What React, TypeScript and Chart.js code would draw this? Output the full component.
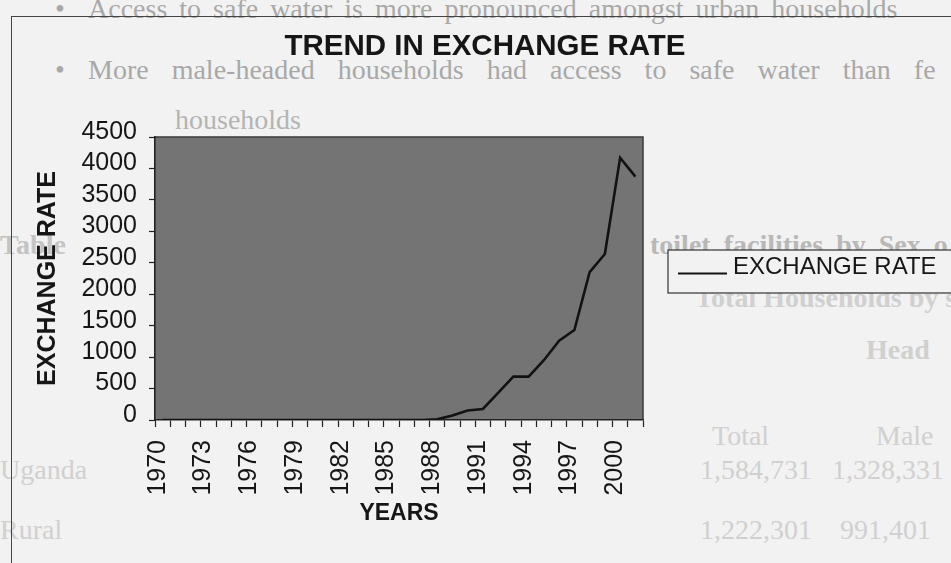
import { useEffect, useRef } from 'react';
import { Chart, registerables } from 'chart.js';

Chart.register(...registerables);

// Yearly categories on the x axis
const YEARS = [
  '1970', '1971', '1972', '1973', '1974', '1975', '1976', '1977',
  '1978', '1979', '1980', '1981', '1982', '1983', '1984', '1985',
  '1986', '1987', '1988', '1989', '1990', '1991', '1992', '1993',
  '1994', '1995', '1996', '1997', '1998', '1999', '2000', '2001',
];

// Exchange rate per year
const EXCHANGE_RATE = [
  0, 0, 0, 0, 0, 0, 0, 0,
  0, 0, 0, 0, 0, 0, 0, 0,
  0, 0, 10, 70, 150, 175, 430, 690,
  690, 950, 1260, 1430, 2350, 2640, 4170, 3870,
];

// Only every third year carries a label
const LABELLED_YEARS = ['1970', '1973', '1976', '1979', '1982', '1985', '1988', '1991', '1994', '1997', '2000'];

const Y_MIN = 0;
const Y_MAX = 4500;
const Y_STEP = 500;

const CHART_TITLE = 'TREND IN EXCHANGE RATE';
const X_TITLE = 'YEARS';
const Y_TITLE = 'EXCHANGE RATE';
const SERIES_NAME = 'EXCHANGE RATE';

const SANS = '"Liberation Sans", Arial, Helvetica, sans-serif';
const SERIF = '"Liberation Serif", "Times New Roman", serif';
const INK = '#161616';
const PLOT_FILL = '#747474';
const PAGE_BG = '#f2f2f2';

const CANVAS_W = 946;
const CANVAS_H = 546;
const PLOT_RIGHT = 631;

// Grey plot background with a dark frame on its open sides
const plotBackground = {
  id: 'plotBackground',
  beforeDraw(chart: any) {
    const { ctx, chartArea: a } = chart;
    ctx.save();
    ctx.fillStyle = PLOT_FILL;
    ctx.fillRect(a.left, a.top, a.right - a.left, a.bottom - a.top);
    ctx.strokeStyle = '#3a3a3a';
    ctx.lineWidth = 1.5;
    ctx.beginPath();
    ctx.moveTo(a.left, a.top);
    ctx.lineTo(a.right, a.top);
    ctx.lineTo(a.right, a.bottom);
    ctx.stroke();
    ctx.restore();
  },
};

// Boxed legend to the right of the plot
const boxedLegend = {
  id: 'boxedLegend',
  afterDraw(chart: any) {
    const { ctx, chartArea: a } = chart;
    const ds = chart.data.datasets[0];
    const left = a.right + 25;
    const midY = (a.top + a.bottom) / 2 - 7;
    const top = midY - 21.5;
    const height = 43;
    const right = chart.width - 1;
    ctx.save();
    ctx.fillStyle = PAGE_BG;
    ctx.fillRect(left, top, right - left, height);
    ctx.strokeStyle = '#333';
    ctx.lineWidth = 1.2;
    ctx.strokeRect(left, top, right - left, height);
    const baseline = top + 23.5;
    ctx.strokeStyle = ds.borderColor;
    ctx.lineWidth = 2;
    ctx.beginPath();
    ctx.moveTo(left + 10, baseline);
    ctx.lineTo(left + 59, baseline);
    ctx.stroke();
    ctx.fillStyle = INK;
    ctx.font = `24px ${SANS}`;
    ctx.textBaseline = 'alphabetic';
    ctx.textAlign = 'left';
    ctx.fillText(ds.label, left + 65, baseline);
    ctx.restore();
  },
};

function ExchangeRateChart() {
  const ref = useRef<HTMLCanvasElement | null>(null);

  useEffect(() => {
    const canvas = ref.current;
    if (!canvas) return;
    const chart = new Chart(canvas, {
      type: 'line',
      data: {
        labels: YEARS,
        datasets: [
          {
            label: SERIES_NAME,
            data: EXCHANGE_RATE,
            borderColor: '#121212',
            borderWidth: 2.6,
            pointRadius: 0,
            tension: 0,
            fill: false,
          },
        ],
      },
      options: {
        responsive: false,
        animation: false,
        devicePixelRatio: 1,
        layout: { padding: 0 },
        plugins: {
          legend: { display: false },
          tooltip: { enabled: false },
          title: {
            display: true,
            text: CHART_TITLE,
            color: INK,
            font: { family: SANS, size: 29.5, weight: 'bold' },
            padding: { top: 12, bottom: 72.6 },
          },
        },
        scales: {
          x: {
            type: 'category',
            offset: true,
            afterFit(scale: any) {
              scale.height = CANVAS_H - 403;
            },
            grid: {
              offset: true,
              drawOnChartArea: false,
              drawTicks: true,
              tickLength: 7,
              tickColor: '#222',
              tickWidth: 1.2,
            },
            border: { color: '#222', width: 1.6 },
            ticks: {
              autoSkip: false,
              maxRotation: 90,
              minRotation: 90,
              padding: 13,
              labelOffset: -5,
              color: INK,
              font: { family: SANS, size: 25 },
              callback(_v: any, i: number) {
                const y = YEARS[i];
                return LABELLED_YEARS.includes(y) ? y : '';
              },
            },
            title: {
              display: true,
              text: X_TITLE,
              color: INK,
              font: { family: SANS, size: 23, weight: 'bold' },
              padding: { top: 0, bottom: 35.6 },
            },
          },
          y: {
            min: Y_MIN,
            max: Y_MAX,
            afterFit(scale: any) {
              scale.width = 143;
            },
            grid: {
              drawOnChartArea: false,
              drawTicks: true,
              tickLength: 6,
              tickColor: '#222',
              tickWidth: 1.2,
            },
            border: { color: '#222', width: 1.6 },
            ticks: {
              stepSize: Y_STEP,
              maxTicksLimit: 20,
              autoSkip: false,
              padding: 12,
              labelOffset: -5,
              color: INK,
              font: { family: SANS, size: 25 },
              callback(v: any) {
                return String(v);
              },
            },
            title: {
              display: true,
              text: Y_TITLE,
              color: INK,
              font: { family: SANS, size: 25, weight: 'bold' },
              padding: { top: 21, bottom: 0 },
            },
          },
          // empty axis on the right keeps room for the legend box
          legendRoom: {
            type: 'linear',
            position: 'right',
            display: true,
            afterFit(scale: any) {
              scale.width = CANVAS_W - PLOT_RIGHT;
            },
            grid: { display: false, drawTicks: false },
            border: { display: false },
            ticks: { display: false },
          },
        },
      },
      plugins: [plotBackground, boxedLegend],
    });
    return () => chart.destroy();
  }, []);

  return (
    <canvas
      ref={ref}
      width={CANVAS_W}
      height={CANVAS_H}
      style={{ position: 'absolute', left: 12, top: 17, width: CANVAS_W, height: CANVAS_H }}
    />
  );
}

// Faint text of the page the chart sits on
function PageText() {
  const base: React.CSSProperties = {
    position: 'absolute',
    whiteSpace: 'nowrap',
    fontFamily: SERIF,
    fontSize: 28,
    lineHeight: '28px',
  };
  const grey = '#a8a8a8';
  const pale = '#d0d0d0';
  return (
    <>
      <div style={{ ...base, left: 55, top: -5, color: grey }}>•</div>
      <div style={{ ...base, left: 88, top: -5, color: grey, wordSpacing: 5 }}>
        Access to safe water is more pronounced amongst urban households
      </div>
      <div style={{ ...base, left: 55, top: 56, color: grey }}>•</div>
      <div style={{ ...base, left: 88, top: 56, color: grey, wordSpacing: 16 }}>
        More male-headed households had access to safe water than fe
      </div>
      <div style={{ ...base, left: 175, top: 106, color: '#b4b4b4' }}>households</div>
      <div style={{ ...base, left: 0, top: 231, color: '#c4c4c4', fontWeight: 'bold' }}>Table</div>
      <div style={{ ...base, left: 650, top: 231, color: '#b8b8b8', fontWeight: 'bold', wordSpacing: 6 }}>
        toilet facilities by Sex o
      </div>
      <div style={{ ...base, left: 695, top: 284, color: pale, fontWeight: 'bold' }}>Total Households by sex</div>
      <div style={{ ...base, left: 866, top: 336, color: pale, fontWeight: 'bold' }}>Head</div>
      <div style={{ ...base, left: 712, top: 422, color: pale }}>Total</div>
      <div style={{ ...base, left: 876, top: 422, color: pale }}>Male</div>
      <div style={{ ...base, left: 0, top: 456, color: pale }}>Uganda</div>
      <div style={{ ...base, left: 700, top: 456, color: pale }}>1,584,731</div>
      <div style={{ ...base, left: 832, top: 456, color: pale }}>1,328,331</div>
      <div style={{ ...base, left: 0, top: 516, color: pale }}>Rural</div>
      <div style={{ ...base, left: 700, top: 516, color: pale }}>1,222,301</div>
      <div style={{ ...base, left: 840, top: 516, color: pale }}>991,401</div>
    </>
  );
}

export default function App() {
  return (
    <div
      style={{
        position: 'fixed',
        left: 0,
        top: 0,
        width: '100vw',
        height: '100vh',
        overflow: 'hidden',
        background: PAGE_BG,
      }}
    >
      <PageText />
      <div
        style={{
          position: 'absolute',
          left: 11,
          top: 16,
          width: 1000,
          height: 600,
          borderLeft: '1px solid #444',
          borderTop: '1px solid #444',
        }}
      />
      <ExchangeRateChart />
    </div>
  );
}
